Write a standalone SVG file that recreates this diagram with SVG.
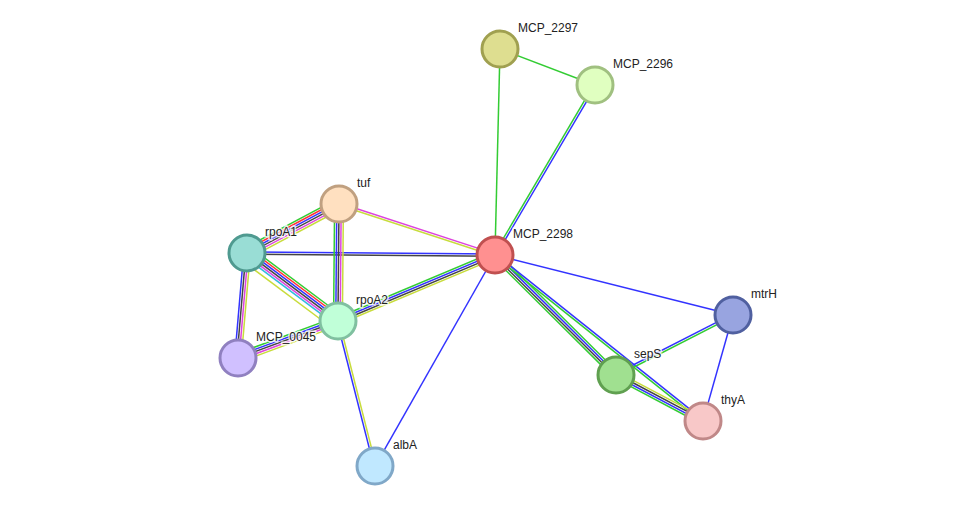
<svg xmlns="http://www.w3.org/2000/svg" width="975" height="512" viewBox="0 0 975 512">
<style>
line{stroke-width:1.5}
.g{stroke:#33cc33}.b{stroke:#3333ff}.k{stroke:#444}.y{stroke:#c8dc3c}.m{stroke:#dd44dd}.r{stroke:#ff3333}.c{stroke:#33bbdd}
circle{stroke-width:3}
text{font-family:"Liberation Sans",Arial,sans-serif;font-size:12px;fill:#222;stroke:#fff;stroke-width:3;paint-order:stroke;stroke-opacity:0.8}
</style>
<rect width="975" height="512" fill="#fff"/>
<g id="edges">
<g transform="translate(500,49) rotate(91.4)"><line class="g" x1="0" y1="0" x2="206" y2="0"/></g>
<g transform="translate(500,49) rotate(20.8)"><line class="g" x1="0" y1="0" x2="102" y2="0"/></g>
<g transform="translate(595,85) rotate(120.5)"><line class="b" x1="0" y1="-1.1" x2="197" y2="-1.1"/><line class="g" x1="0" y1="1.1" x2="197" y2="1.1"/></g>
<g transform="translate(339,204) rotate(18.1)"><line class="m" x1="0" y1="-1.1" x2="164" y2="-1.1"/><line class="y" x1="0" y1="1.1" x2="164" y2="1.1"/></g>
<g transform="translate(247,253) rotate(0.5)"><line class="b" x1="0" y1="-1.1" x2="248" y2="-1.1"/><line class="k" x1="0" y1="1.1" x2="248" y2="1.1"/></g>
<g transform="translate(338,321) rotate(-22.8)"><line class="g" x1="0" y1="-3.3" x2="170" y2="-3.3"/><line class="b" x1="0" y1="-1.1" x2="170" y2="-1.1"/><line class="k" x1="0" y1="1.1" x2="170" y2="1.1"/><line class="y" x1="0" y1="3.3" x2="170" y2="3.3"/></g>
<g transform="translate(495,255) rotate(119.6)"><line class="b" x1="0" y1="0" x2="243" y2="0"/></g>
<g transform="translate(495,255) rotate(14.1)"><line class="b" x1="0" y1="0" x2="245" y2="0"/></g>
<g transform="translate(495,255) rotate(44.8)"><line class="g" x1="0" y1="-3.3" x2="170" y2="-3.3"/><line class="b" x1="0" y1="-1.1" x2="170" y2="-1.1"/><line class="k" x1="0" y1="1.1" x2="170" y2="1.1"/><line class="g" x1="0" y1="3.3" x2="170" y2="3.3"/></g>
<g transform="translate(495,255) rotate(38.6)"><line class="b" x1="0" y1="-1.1" x2="266" y2="-1.1"/><line class="g" x1="0" y1="1.1" x2="266" y2="1.1"/></g>
<g transform="translate(616,375) rotate(-27.1)"><line class="b" x1="0" y1="-1.1" x2="131" y2="-1.1"/><line class="g" x1="0" y1="1.1" x2="131" y2="1.1"/></g>
<g transform="translate(616,375) rotate(27.9)"><line class="y" x1="0" y1="-3.3" x2="98" y2="-3.3"/><line class="k" x1="0" y1="-1.1" x2="98" y2="-1.1"/><line class="b" x1="0" y1="1.1" x2="98" y2="1.1"/><line class="g" x1="0" y1="3.3" x2="98" y2="3.3"/></g>
<g transform="translate(733,315) rotate(105.8)"><line class="b" x1="0" y1="0" x2="110" y2="0"/></g>
<g transform="translate(247,253) rotate(-28)"><line class="g" x1="0" y1="-5.5" x2="104" y2="-5.5"/><line class="r" x1="0" y1="-3.3" x2="104" y2="-3.3"/><line class="b" x1="0" y1="-1.1" x2="104" y2="-1.1"/><line class="k" x1="0" y1="1.1" x2="104" y2="1.1"/><line class="m" x1="0" y1="3.3" x2="104" y2="3.3"/><line class="y" x1="0" y1="5.5" x2="104" y2="5.5"/></g>
<g transform="translate(247,253) rotate(36.8)"><line class="g" x1="0" y1="-6.6" x2="114" y2="-6.6"/><line class="r" x1="0" y1="-4.4" x2="114" y2="-4.4"/><line class="b" x1="0" y1="-2.2" x2="114" y2="-2.2"/><line class="k" x1="0" y1="0" x2="114" y2="0"/><line class="m" x1="0" y1="2.2" x2="114" y2="2.2"/><line class="c" x1="0" y1="4.4" x2="114" y2="4.4"/><line class="y" x1="0" y1="9" x2="114" y2="9"/></g>
<g transform="translate(247,253) rotate(94.9)"><line class="y" x1="0" y1="-3.3" x2="105" y2="-3.3"/><line class="m" x1="0" y1="-1.1" x2="105" y2="-1.1"/><line class="k" x1="0" y1="1.1" x2="105" y2="1.1"/><line class="b" x1="0" y1="3.3" x2="105" y2="3.3"/></g>
<g transform="translate(339,204) rotate(90.5)"><line class="y" x1="0" y1="-4.4" x2="117" y2="-4.4"/><line class="m" x1="0" y1="-2.2" x2="117" y2="-2.2"/><line class="k" x1="0" y1="0" x2="117" y2="0"/><line class="b" x1="0" y1="2.2" x2="117" y2="2.2"/><line class="g" x1="0" y1="4.4" x2="117" y2="4.4"/></g>
<g transform="translate(338,321) rotate(159.7)"><line class="y" x1="0" y1="-4.4" x2="107" y2="-4.4"/><line class="m" x1="0" y1="-2.2" x2="107" y2="-2.2"/><line class="k" x1="0" y1="0" x2="107" y2="0"/><line class="b" x1="0" y1="2.2" x2="107" y2="2.2"/><line class="g" x1="0" y1="4.4" x2="107" y2="4.4"/></g>
<g transform="translate(338,321) rotate(75.7)"><line class="y" x1="0" y1="-1.1" x2="150" y2="-1.1"/><line class="b" x1="0" y1="1.1" x2="150" y2="1.1"/></g>
</g>
<g id="MCP_2297"><circle cx="500" cy="49" r="18" fill="#dede90" stroke="#a0a050"/><text x="518" y="32">MCP_2297</text></g>
<g id="MCP_2296"><circle cx="595" cy="85" r="18" fill="#e0ffc0" stroke="#a0c080"/><text x="613" y="68">MCP_2296</text></g>
<g id="MCP_2298"><circle cx="495" cy="255" r="18" fill="#ff9090" stroke="#c05050"/><text x="513" y="238">MCP_2298</text></g>
<g id="tuf"><circle cx="339" cy="204" r="18" fill="#ffe0c0" stroke="#c0a080"/><text x="357" y="187">tuf</text></g>
<g id="rpoA1"><circle cx="247" cy="253" r="18" fill="#99ddd5" stroke="#4f9a90"/><text x="265" y="236">rpoA1</text></g>
<g id="rpoA2"><circle cx="338" cy="321" r="18" fill="#c0ffd8" stroke="#80c0a0"/><text x="356" y="304">rpoA2</text></g>
<g id="MCP_0045"><circle cx="238" cy="358" r="18" fill="#d0c0ff" stroke="#9080c0"/><text x="256" y="341">MCP_0045</text></g>
<g id="albA"><circle cx="375" cy="466" r="18" fill="#c0e8ff" stroke="#80a8c8"/><text x="393" y="449">albA</text></g>
<g id="mtrH"><circle cx="733" cy="315" r="18" fill="#98a4e0" stroke="#5060a0"/><text x="751" y="298">mtrH</text></g>
<g id="sepS"><circle cx="616" cy="375" r="18" fill="#a0e090" stroke="#60a050"/><text x="634" y="358">sepS</text></g>
<g id="thyA"><circle cx="703" cy="421" r="18" fill="#f8c8c8" stroke="#c08888"/><text x="721" y="404">thyA</text></g>
</svg>
